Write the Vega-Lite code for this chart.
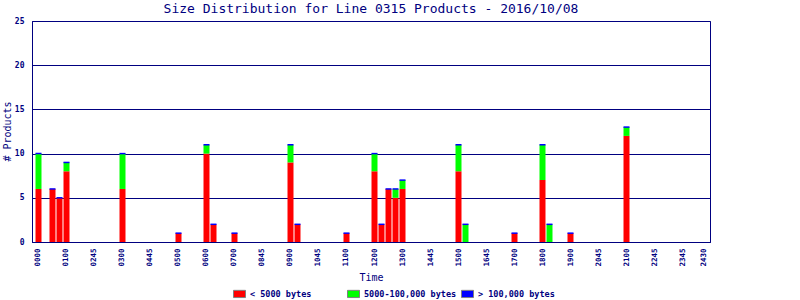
{
  "$schema": "https://vega.github.io/schema/vega-lite/v6.json",
  "autosize": {"type": "none"},
  "padding": {"left": 32, "top": 21, "right": 90, "bottom": 58},
  "width": 678,
  "height": 221,
  "background": "white",
  "title": {
    "text": "Size Distribution for Line 0315 Products - 2016/10/08",
    "font": "DejaVu Sans Mono",
    "fontSize": 13,
    "fontWeight": "normal",
    "color": "#000080",
    "anchor": "middle",
    "frame": "group",
    "offset": 1
  },
  "config": {
    "view": {"stroke": "#000080", "strokeWidth": 1},
    "axis": {
      "domainColor": "#000080",
      "labelColor": "#000080",
      "titleColor": "#000080",
      "labelFont": "DejaVu Sans Mono",
      "titleFont": "DejaVu Sans Mono",
      "titleFontWeight": "normal",
      "ticks": false
    },
    "legend": {
      "labelFont": "DejaVu Sans Mono",
      "labelColor": "#000080"
    }
  },
  "data": {
    "values": [
      {"slot": 0, "size": "< 5000 bytes", "count": 6},
      {"slot": 0, "size": "5000-100,000 bytes", "count": 4},
      {"slot": 2, "size": "< 5000 bytes", "count": 6},
      {"slot": 3, "size": "< 5000 bytes", "count": 5},
      {"slot": 4, "size": "< 5000 bytes", "count": 8},
      {"slot": 4, "size": "5000-100,000 bytes", "count": 1},
      {"slot": 12, "size": "< 5000 bytes", "count": 6},
      {"slot": 12, "size": "5000-100,000 bytes", "count": 4},
      {"slot": 20, "size": "< 5000 bytes", "count": 1},
      {"slot": 24, "size": "< 5000 bytes", "count": 10},
      {"slot": 24, "size": "5000-100,000 bytes", "count": 1},
      {"slot": 25, "size": "< 5000 bytes", "count": 2},
      {"slot": 28, "size": "< 5000 bytes", "count": 1},
      {"slot": 36, "size": "< 5000 bytes", "count": 9},
      {"slot": 36, "size": "5000-100,000 bytes", "count": 2},
      {"slot": 37, "size": "< 5000 bytes", "count": 2},
      {"slot": 44, "size": "< 5000 bytes", "count": 1},
      {"slot": 48, "size": "< 5000 bytes", "count": 8},
      {"slot": 48, "size": "5000-100,000 bytes", "count": 2},
      {"slot": 49, "size": "< 5000 bytes", "count": 2},
      {"slot": 50, "size": "< 5000 bytes", "count": 6},
      {"slot": 51, "size": "< 5000 bytes", "count": 5},
      {"slot": 51, "size": "5000-100,000 bytes", "count": 1},
      {"slot": 52, "size": "< 5000 bytes", "count": 6},
      {"slot": 52, "size": "5000-100,000 bytes", "count": 1},
      {"slot": 60, "size": "< 5000 bytes", "count": 8},
      {"slot": 60, "size": "5000-100,000 bytes", "count": 3},
      {"slot": 61, "size": "5000-100,000 bytes", "count": 2},
      {"slot": 68, "size": "< 5000 bytes", "count": 1},
      {"slot": 72, "size": "< 5000 bytes", "count": 7},
      {"slot": 72, "size": "5000-100,000 bytes", "count": 4},
      {"slot": 73, "size": "5000-100,000 bytes", "count": 2},
      {"slot": 76, "size": "< 5000 bytes", "count": 1},
      {"slot": 84, "size": "< 5000 bytes", "count": 12},
      {"slot": 84, "size": "5000-100,000 bytes", "count": 1}
    ]
  },
  "encoding": {
    "x": {
      "field": "slot",
      "type": "ordinal",
      "scale": {
        "domain": [0,1,2,3,4,5,6,7,8,9,10,11,12,13,14,15,16,17,18,19,20,21,22,23,24,25,26,27,28,29,30,31,32,33,34,35,36,37,38,39,40,41,42,43,44,45,46,47,48,49,50,51,52,53,54,55,56,57,58,59,60,61,62,63,64,65,66,67,68,69,70,71,72,73,74,75,76,77,78,79,80,81,82,83,84,85,86,87,88,89,90,91,92,93,94,95],
        "paddingInner": 0.143,
        "paddingOuter": 0.5
      },
      "axis": {
        "title": "Time",
        "titleFontSize": 10,
        "titlePadding": 6,
        "labelFontSize": 7.5,
        "labelFontWeight": "bold",
        "labelAngle": 270,
        "labelPadding": 6,
        "values": [0,4,8,12,16,20,24,28,32,36,40,44,48,52,56,60,64,68,72,76,80,84,88,92,95],
        "labelExpr": "{'0':'0000','4':'0100','8':'0245','12':'0300','16':'0445','20':'0500','24':'0600','28':'0700','32':'0845','36':'0900','40':'1045','44':'1100','48':'1200','52':'1300','56':'1445','60':'1500','64':'1645','68':'1700','72':'1800','76':'1900','80':'2045','84':'2100','88':'2245','92':'2345','95':'2430'}[datum.value]"
      }
    }
  },
  "layer": [
    {
      "mark": {"type": "bar"},
      "encoding": {
        "y": {
          "field": "count",
          "type": "quantitative",
          "stack": "zero",
          "scale": {"domain": [0, 25], "nice": false},
          "axis": {
            "title": "# Products",
            "titleFontSize": 10,
            "titleX": -25,
            "titleY": 110,
            "titleBaseline": "middle",
            "values": [0, 5, 10, 15, 20, 25],
            "labelFontSize": 8,
            "labelFontWeight": "bold",
            "labelPadding": 8,
            "grid": true,
            "gridColor": "#000080",
            "gridOpacity": 1
          }
        },
        "color": {
          "field": "size",
          "type": "nominal",
          "sort": ["< 5000 bytes", "5000-100,000 bytes", "> 100,000 bytes"],
          "scale": {
            "domain": ["< 5000 bytes", "5000-100,000 bytes", "> 100,000 bytes"],
            "range": ["#ff0000", "#00ff00", "#0000ff"]
          },
          "legend": {
            "title": null,
            "orient": "none",
            "direction": "horizontal",
            "legendX": 201,
            "legendY": 266,
            "padding": 0,
            "gridAlign": "all",
            "columnPadding": 2,
            "symbolType": "M-1,-0.6H1V0.6H-1Z",
            "symbolSize": 144,
            "symbolStrokeColor": "#808080",
            "symbolStrokeWidth": 1,
            "symbolOpacity": 1,
            "labelFontSize": 8.5,
            "labelFontWeight": "bold",
            "labelOffset": 4
          }
        }
      }
    },
    {
      "mark": {"type": "tick", "color": "#0000ff", "thickness": 1.5, "size": 6, "orient": "horizontal"},
      "encoding": {
        "y": {"aggregate": "sum", "field": "count", "type": "quantitative"}
      }
    }
  ]
}
